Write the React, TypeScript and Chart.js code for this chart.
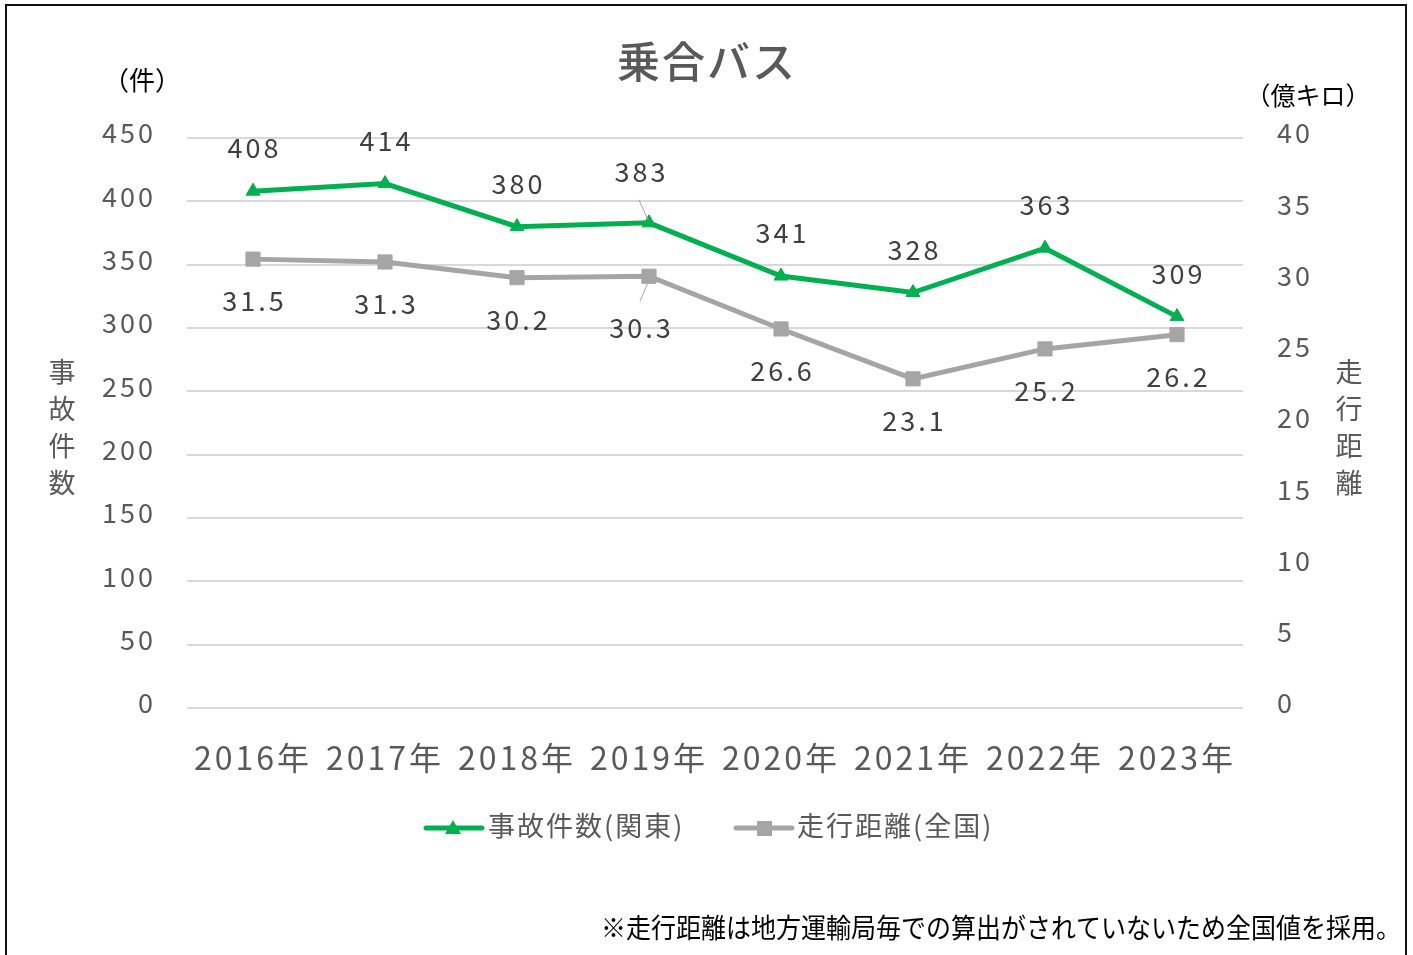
import React, { useEffect, useRef } from "react";
import { Chart, registerables } from "chart.js";

Chart.register(...registerables);

const FONT = '"Noto Sans CJK JP", "Noto Sans", sans-serif';

const categories = ["2016年", "2017年", "2018年", "2019年", "2020年", "2021年", "2022年", "2023年"];
const accidents = [408, 414, 380, 383, 341, 328, 363, 309];
const distance = [31.5, 31.3, 30.2, 30.3, 26.6, 23.1, 25.2, 26.2];

const chartTitle = "乗合バス";
const leftUnit = "（件）";
const rightUnit = "（億キロ）";
const leftAxisTitle = ["事", "故", "件", "数"];
const rightAxisTitle = ["走", "行", "距", "離"];
const legendAccidents = "事故件数(関東)";
const legendDistance = "走行距離(全国)";
const footnote = "※走行距離は地方運輸局毎での算出がされていないため全国値を採用。";

const GREEN = "#00b050";
const GRAY = "#a5a5a5";
const TEXT = "#595959";
const LABEL = "#404040";

const decor = {
  id: "decor",
  beforeDraw(chart: any) {
    const ctx = chart.ctx as CanvasRenderingContext2D;
    ctx.save();
    ctx.fillStyle = "#ffffff";
    ctx.fillRect(0, 0, chart.width, chart.height);
    ctx.restore();
    (ctx as any).letterSpacing = "3px";
  },
  afterDatasetsDraw(chart: any) {
    const ctx = chart.ctx as CanvasRenderingContext2D;
    ctx.save();
    (ctx as any).letterSpacing = "3px";
    ctx.font = `27px ${FONT}`;
    ctx.fillStyle = LABEL;
    ctx.textAlign = "center";
    ctx.textBaseline = "middle";
    const m0 = chart.getDatasetMeta(0);
    const m1 = chart.getDatasetMeta(1);
    m0.data.forEach((pt: any, i: number) => {
      const special = i === 3;
      const dx = special ? -9 : 0;
      const dy = special ? -51 : -43;
      ctx.fillText(String(accidents[i]), pt.x + dx + 1.5, pt.y + dy);
    });
    m1.data.forEach((pt: any, i: number) => {
      const special = i === 3;
      const dx = special ? -9 : 0;
      const dy = special ? 52 : 42;
      ctx.fillText(distance[i].toFixed(1), pt.x + dx + 1.5, pt.y + dy);
    });
    // leader lines for 2019
    const p0 = m0.data[3];
    const p1 = m1.data[3];
    ctx.strokeStyle = "#a6a6a6";
    ctx.lineWidth = 1;
    ctx.beginPath();
    ctx.moveTo(p0.x - 10, p0.y - 23);
    ctx.lineTo(p0.x - 1, p0.y - 3);
    ctx.moveTo(p1.x - 1, p1.y + 6);
    ctx.lineTo(p1.x - 9, p1.y + 25);
    ctx.stroke();
    ctx.restore();
  },
  afterDraw(chart: any) {
    const ctx = chart.ctx as CanvasRenderingContext2D;
    ctx.save();
    (ctx as any).letterSpacing = "0px";
    ctx.textBaseline = "middle";
    ctx.textAlign = "center";

    // title
    ctx.font = `500 43px ${FONT}`;
    ctx.fillStyle = TEXT;
    (ctx as any).letterSpacing = "2px";
    ctx.fillText(chartTitle, 707, 62);
    (ctx as any).letterSpacing = "0px";

    // units
    ctx.fillStyle = "#000000";
    ctx.font = `26px ${FONT}`;
    ctx.fillText(leftUnit, 142, 80);
    ctx.font = `25px ${FONT}`;
    ctx.fillText(rightUnit, 1308, 95);

    // vertical axis titles
    ctx.fillStyle = TEXT;
    ctx.font = `27px ${FONT}`;
    leftAxisTitle.forEach((c, i) => ctx.fillText(c, 62, 372 + i * 37));
    rightAxisTitle.forEach((c, i) => ctx.fillText(c, 1349, 372 + i * 37));

    // legend
    ctx.lineCap = "round";
    ctx.lineWidth = 5;
    ctx.strokeStyle = GREEN;
    ctx.beginPath();
    ctx.moveTo(426, 828);
    ctx.lineTo(482, 828);
    ctx.stroke();
    ctx.fillStyle = GREEN;
    ctx.beginPath();
    ctx.moveTo(453, 820);
    ctx.lineTo(461, 834);
    ctx.lineTo(445, 834);
    ctx.closePath();
    ctx.fill();
    ctx.strokeStyle = GRAY;
    ctx.beginPath();
    ctx.moveTo(736, 828);
    ctx.lineTo(792, 828);
    ctx.stroke();
    ctx.fillStyle = GRAY;
    ctx.fillRect(757, 821, 15, 15);

    ctx.fillStyle = TEXT;
    ctx.font = `27px ${FONT}`;
    ctx.textAlign = "left";
    (ctx as any).letterSpacing = "2px";
    ctx.fillText(legendAccidents, 488, 826);
    ctx.fillText(legendDistance, 797, 826);
    (ctx as any).letterSpacing = "0px";

    // footnote
    ctx.fillStyle = "#000000";
    ctx.font = `27px ${FONT}`;
    const w = ctx.measureText(footnote).width;
    const target = 800;
    ctx.save();
    ctx.translate(601, 928);
    ctx.scale(target / w, 1);
    ctx.textAlign = "left";
    ctx.fillText(footnote, 0, 0);
    ctx.restore();

    // border
    ctx.strokeStyle = "#111111";
    ctx.lineWidth = 2;
    ctx.lineCap = "butt";
    ctx.strokeRect(6, 5, 1400, 1000);
    ctx.restore();
    (ctx as any).letterSpacing = "0px";
  },
};

export default function App() {
  const ref = useRef<HTMLCanvasElement>(null);
  useEffect(() => {
    const canvas = ref.current!;
    const chart = new Chart(canvas, {
      type: "line",
      data: {
        labels: categories,
        datasets: [
          {
            label: legendAccidents,
            data: accidents,
            yAxisID: "y",
            borderColor: GREEN,
            backgroundColor: GREEN,
            borderWidth: 5,
            pointStyle: "triangle",
            pointRadius: 8,
            pointBorderWidth: 1,
            pointBackgroundColor: GREEN,
            pointBorderColor: GREEN,
            tension: 0,
          },
          {
            label: legendDistance,
            data: distance,
            yAxisID: "y1",
            borderColor: GRAY,
            backgroundColor: GRAY,
            borderWidth: 5,
            pointStyle: "rect",
            pointRadius: 10,
            pointBorderWidth: 1,
            pointBackgroundColor: GRAY,
            pointBorderColor: GRAY,
            tension: 0,
          },
        ],
      },
      options: {
        responsive: false,
        animation: false,
        devicePixelRatio: 1,
        layout: { padding: { top: 138, left: 0, right: 0, bottom: 0 } },
        plugins: {
          legend: { display: false },
          title: { display: false },
          tooltip: { enabled: false },
        },
        scales: {
          x: {
            type: "category",
            offset: true,
            grid: { display: false, drawTicks: false },
            border: { display: false },
            ticks: {
              font: { family: FONT, size: 32 },
              color: TEXT,
              padding: 31,
              maxRotation: 0,
              autoSkip: false,
            },
            afterFit(s: any) {
              s.height = 247;
            },
          },
          y: {
            position: "left",
            min: 0,
            max: 450,
            grid: { color: "#d9d9d9", lineWidth: 2, drawTicks: false },
            border: { display: false },
            ticks: {
              stepSize: 50,
              font: { family: FONT, size: 27 },
              color: TEXT,
              padding: 31,
              labelOffset: -5,
            },
            afterFit(s: any) {
              s.width = 187;
            },
          },
          y1: {
            position: "right",
            min: 0,
            max: 40,
            grid: { display: false, drawTicks: false },
            border: { display: false },
            ticks: {
              stepSize: 5,
              font: { family: FONT, size: 27 },
              color: TEXT,
              padding: 34,
              labelOffset: -5,
            },
            afterFit(s: any) {
              s.width = 170;
            },
          },
        },
      } as any,
      plugins: [decor],
    });
    return () => chart.destroy();
  }, []);
  return (
    <div style={{ position: "absolute", left: 0, top: 0, width: 1413, height: 955, background: "#fff" }}>
      <canvas ref={ref} width={1413} height={955} style={{ display: "block", width: 1413, height: 955 }} />
    </div>
  );
}
